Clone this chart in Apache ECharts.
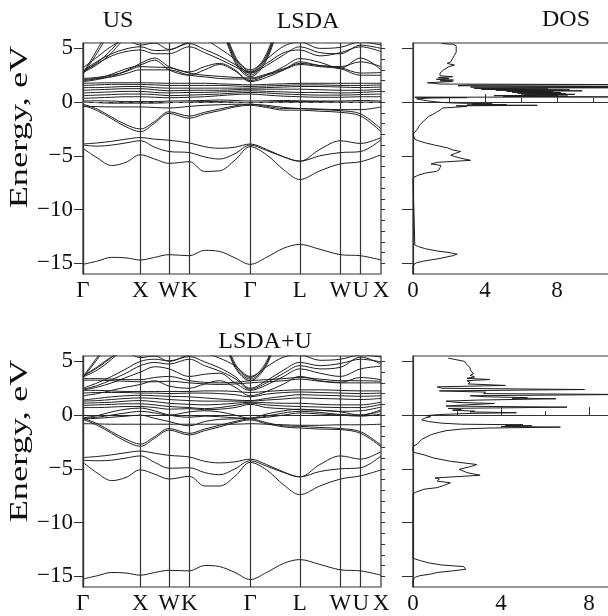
<!DOCTYPE html>
<html><head><meta charset="utf-8">
<script src="https://cdn.jsdelivr.net/npm/echarts@6/dist/echarts.min.js"></script>
<style>html,body{margin:0;padding:0;background:#fff}#c{width:608px;height:616px}</style>
</head><body><div id="c"></div>
<script>
// ---------- path / axes ----------
const kTicks = [0, 1, 1.5, 1.854, 2.915, 3.781, 4.488, 4.842, 5.196];
const kTickLabels = ['Γ','X','W','K','Γ','L','W','U','X'];
const kSample = [0, 0.25, 0.5, 0.75, 1.0, 1.25, 1.5, 1.854, 2.12, 2.38, 2.65, 2.915, 3.2, 3.5, 3.781, 4.13, 4.488, 4.842, 5.196];
const energyTicks = [-15, -10, -5, 0, 5];
const energyMinorTicks = [-15,-14,-13,-12,-11,-10,-9,-8,-7,-6,-5,-4,-3,-2,-1,0,1,2,3,4,5];
const dosTicks = [0, 4, 8];

// ---------- LSDA bands (eV at kSample) ----------
const lsdaDeep = [
  [-15.1,-14.8,-14.45,-14.5,-14.7,-14.45,-14.2,-14.3,-13.8,-13.9,-14.5,-15.1,-14.45,-13.6,-13.25,-13.7,-14.2,-14.3,-14.7]
];
const lsdaLow = [
  [-3.9,-3.8,-3.65,-3.45,-3.3,-3.45,-3.55,-3.8,-4.15,-4.3,-4.2,-3.9,-4.4,-5.1,-5.5,-4.4,-3.6,-3.85,-3.3],
  [-4.0,-4.1,-4.0,-3.8,-3.6,-4.2,-4.6,-4.7,-5.1,-5.3,-4.8,-4.0,-4.5,-5.1,-5.5,-5.0,-4.7,-4.6,-3.5],
  [-4.3,-5.2,-5.9,-5.6,-4.9,-5.3,-5.7,-5.55,-6.45,-6.4,-5.4,-4.15,-4.9,-6.3,-7.2,-6.4,-5.75,-5.55,-4.9]
];
const lsdaValence = [
  [-0.2,-0.65,-1.4,-2.1,-2.5,-1.8,-0.9,-1.3,-0.95,-0.65,-0.35,-0.2,-0.4,-0.6,-0.6,-0.7,-0.8,-1.1,-2.5],
  [-0.3,-0.8,-1.55,-2.3,-2.75,-1.95,-1.05,-1.5,-1.1,-0.8,-0.45,-0.3,-0.5,-0.75,-0.75,-0.85,-0.95,-1.3,-2.75],
  [-0.4,-0.42,-0.45,-0.45,-0.45,-0.5,-0.55,-0.4,-0.3,-0.25,-0.2,-0.2,-0.3,-0.5,-0.6,-0.65,-0.7,-0.7,-0.45],
  [0.0,-0.05,-0.1,-0.1,-0.1,-0.1,-0.05,0.0,0.05,0.05,0.0,-0.05,0.0,0.05,0.05,0.05,0.0,0.0,0.0],
  [0.1,0.12,0.1,0.05,0.05,0.05,0.1,0.12,0.15,0.2,0.15,0.1,0.12,0.15,0.12,0.1,0.1,0.15,0.1]
];
const lsdaFlat = [
  [1.75,1.78,1.8,1.8,1.8,1.78,1.75,1.75,1.75,1.7,1.65,1.6,1.65,1.7,1.75,1.75,1.75,1.75,1.75],
  [1.55,1.6,1.65,1.65,1.65,1.6,1.55,1.55,1.55,1.55,1.5,1.45,1.5,1.55,1.6,1.6,1.55,1.55,1.6],
  [1.35,1.35,1.4,1.45,1.45,1.35,1.3,1.3,1.3,1.3,1.3,1.3,1.35,1.4,1.45,1.45,1.4,1.35,1.4],
  [1.1,1.15,1.2,1.25,1.25,1.15,1.05,1.1,1.1,1.1,1.15,1.2,1.2,1.2,1.2,1.15,1.1,1.1,1.2],
  [0.85,0.9,0.95,1.0,1.0,0.9,0.85,0.9,0.9,0.95,1.0,1.05,1.0,0.95,0.9,0.9,0.85,0.9,1.0],
  [0.6,0.65,0.7,0.75,0.75,0.7,0.6,0.65,0.7,0.75,0.85,0.9,0.85,0.75,0.7,0.65,0.65,0.7,0.75],
  [0.35,0.4,0.45,0.5,0.5,0.45,0.4,0.45,0.5,0.6,0.7,0.75,0.65,0.55,0.5,0.45,0.45,0.5,0.5]
];
const lsdaUpper = [
  [2.2,2.3,2.5,2.85,3.3,3.25,3.2,2.7,2.5,2.4,2.3,2.25,2.6,3.1,3.6,3.4,3.2,2.7,2.75],
  [2.1,2.2,2.35,2.65,3.0,3.0,3.0,2.5,2.35,2.2,2.15,2.15,2.5,3.0,3.5,3.3,3.1,2.5,2.5],
  [1.9,2.1,2.4,2.9,3.6,4.1,3.3,2.8,3.3,3.6,3.0,1.9,2.3,3.0,3.75,3.4,3.3,3.75,3.3],
  [2.0,2.2,2.6,3.1,3.45,3.9,3.0,2.5,3.0,3.5,2.9,2.0,2.5,3.3,4.05,3.7,3.15,4.1,3.0],
  [2.8,3.6,4.3,4.7,4.85,4.5,4.5,5.15,4.6,4.0,3.3,2.7,3.4,4.4,5.15,4.6,4.5,5.3,5.0],
  [2.9,3.8,4.5,4.95,5.15,4.8,4.85,5.45,4.9,4.3,3.5,2.8,3.6,4.6,4.85,4.3,4.6,5.15,4.7],
  [3.2,4.2,5.2,5.8,5.3,5.5,4.9,5.6,5.7,5.0,4.0,3.0,4.0,5.2,5.6,5.0,5.1,5.6,5.3]
];
const lsdaSteep = [
  [2.6,4.6,6.9,null,null,null,null,null,null,null,null,null,null,null,null,null,null,null,null],
  [2.7,4.9,7.3,null,null,null,null,null,null,null,null,null,null,null,null,null,null,null,null],
  [2.75,3.5,4.6,6.2,null,null,null,null,null,null,null,null,null,null,null,null,null,null,null],
  [2.85,3.7,4.9,6.5,null,null,null,null,null,null,null,null,null,null,null,null,null,null,null],
  [null,null,null,null,null,null,null,null,null,7.8,3.7,2.35,3.9,8.8,null,null,null,null,null],
  [null,null,null,null,null,null,null,null,null,8.0,3.9,2.5,4.1,9.0,null,null,null,null,null],
  [null,null,null,null,null,null,null,null,null,8.2,4.1,2.7,4.3,9.2,null,null,null,null,null],
  [null,null,null,null,null,null,null,null,null,8.4,4.3,2.85,4.5,9.4,null,null,null,null,null]
];

// ---------- LSDA+U bands ----------
const uDeep = [
  [-15.25,-14.95,-14.65,-14.7,-14.9,-14.65,-14.45,-14.5,-14.0,-14.1,-14.65,-15.3,-14.65,-13.8,-13.45,-13.9,-14.4,-14.5,-14.9]
];
const uLow = [
  [-3.95,-3.85,-3.7,-3.5,-3.35,-3.55,-3.75,-3.9,-4.3,-4.45,-4.35,-4.1,-4.6,-5.3,-5.75,-4.6,-3.8,-4.1,-3.4],
  [-4.2,-4.25,-4.2,-4.0,-3.8,-4.4,-4.95,-4.9,-5.35,-5.55,-5.0,-4.25,-4.75,-5.35,-5.75,-5.25,-5.0,-4.9,-3.8],
  [-4.4,-5.4,-6.1,-5.8,-5.1,-5.5,-5.95,-5.7,-6.6,-6.6,-5.7,-4.4,-5.1,-6.5,-7.4,-6.6,-5.95,-5.65,-5.1]
];
const uValence = [
  [-0.3,-0.8,-1.55,-2.25,-2.7,-2.0,-1.25,-1.7,-1.3,-0.95,-0.6,-0.35,-0.7,-1.0,-1.05,-1.15,-1.25,-1.55,-2.8],
  [-0.4,-0.95,-1.7,-2.45,-2.9,-2.15,-1.4,-1.85,-1.45,-1.1,-0.7,-0.45,-0.8,-1.1,-1.2,-1.3,-1.35,-1.7,-2.95],
  [-0.8,-0.82,-0.85,-0.85,-0.85,-0.85,-0.85,-0.85,-0.85,-0.85,-0.85,-0.8,-0.85,-0.9,-0.95,-0.95,-0.9,-0.9,-0.85],
  [-0.3,-0.2,0.0,0.2,0.35,0.2,0.0,0.3,0.4,0.3,0.0,-0.3,0.1,0.4,0.55,0.45,0.3,0.0,0.35],
  [-0.25,-0.05,0.3,0.55,0.65,0.4,0.0,-0.2,-0.1,-0.15,-0.25,-0.3,-0.1,0.2,0.35,0.25,0.05,0.0,0.5],
  [-0.35,-0.3,-0.2,-0.1,0.0,-0.3,-0.6,-1.0,-0.6,-0.4,-0.35,-0.3,-0.2,0.0,0.2,0.1,0.0,-0.1,0.1]
];
const uFlat = [
  [2.3,2.3,2.25,2.2,2.2,2.2,2.2,2.2,2.25,2.25,2.2,2.1,2.2,2.3,2.35,2.35,2.3,2.25,2.25],
  [2.05,2.1,2.1,2.1,2.05,2.05,2.0,2.05,2.05,2.0,1.9,1.7,1.95,2.1,2.15,2.1,2.05,2.0,2.05],
  [1.4,1.55,1.7,1.8,1.85,1.8,1.75,1.7,1.6,1.5,1.4,1.35,1.55,1.75,1.9,1.85,1.8,1.75,1.8],
  [1.3,1.35,1.45,1.55,1.6,1.55,1.45,1.35,1.3,1.3,1.3,1.3,1.4,1.5,1.6,1.55,1.5,1.45,1.55],
  [1.1,1.15,1.2,1.3,1.35,1.25,1.1,1.0,0.95,1.0,1.1,1.2,1.15,1.1,1.1,1.0,0.95,0.95,1.2],
  [0.9,0.95,1.0,1.05,1.05,0.95,0.8,0.7,0.6,0.7,0.9,1.1,0.95,0.85,0.8,0.75,0.7,0.7,1.0],
  [0.7,0.7,0.75,0.8,0.8,0.7,0.55,0.6,0.5,0.55,0.7,1.0,0.7,0.6,0.5,0.45,0.35,0.4,0.75]
];
const uUpper = [
  [3.4,3.4,3.35,3.3,3.3,3.5,3.6,3.2,3.05,3.0,3.05,3.2,3.3,3.4,3.5,3.35,3.2,3.2,3.15],
  [3.25,3.25,3.2,3.15,3.1,3.1,3.15,3.0,2.9,2.85,2.9,3.0,3.1,3.2,3.35,3.15,3.0,3.0,3.0],
  [2.35,2.6,3.0,3.5,4.0,4.5,4.3,3.6,3.8,3.9,3.0,2.3,2.8,3.6,4.3,3.9,3.6,4.3,4.55],
  [2.4,2.75,3.3,3.9,4.6,4.9,4.75,5.2,4.6,4.1,3.4,2.4,3.0,3.9,4.6,4.3,4.45,5.4,4.75],
  [2.5,3.0,3.6,4.3,5.0,5.2,5.05,5.45,4.95,4.4,3.6,2.5,3.2,4.2,4.9,4.6,4.8,5.2,4.95],
  [1.8,2.0,2.3,2.6,2.85,3.2,2.7,2.5,2.9,3.2,2.6,1.8,2.2,2.9,3.6,3.2,3.05,3.5,3.3],
  [3.6,4.5,5.4,5.8,5.35,5.5,5.0,5.6,5.7,5.3,4.6,3.6,4.5,5.4,5.6,5.1,5.2,5.6,5.4]
];
const uSteep = [
  [3.5,5.2,7.2,null,null,null,null,null,null,null,null,null,null,null,null,null,null,null,null],
  [3.6,5.4,7.4,null,null,null,null,null,null,null,null,null,null,null,null,null,null,null,null],
  [3.55,4.2,5.2,6.5,null,null,null,null,null,null,null,null,null,null,null,null,null,null,null],
  [3.65,4.4,5.4,6.7,null,null,null,null,null,null,null,null,null,null,null,null,null,null,null],
  [null,null,null,null,null,null,null,null,null,8.3,4.45,3.2,4.65,9.0,null,null,null,null,null],
  [null,null,null,null,null,null,null,null,null,8.5,4.6,3.35,4.8,9.2,null,null,null,null,null],
  [null,null,null,null,null,null,null,null,null,8.7,4.8,3.5,5.0,9.4,null,null,null,null,null]
];

// ---------- DOS (energy, states) ----------
const dosLsdaE = [-16,-15.3,-15.1,-14.95,-14.8,-14.55,-14.3,-14.15,-14.0,-13.85,-13.65,-13.45,-13.3,-13.15,-7.2,-7.0,-6.8,-6.6,-6.45,-6.3,-6.1,-5.9,-5.75,-5.6,-5.42,-5.2,-4.95,-4.8,-4.6,-4.45,-4.25,-4.0,-3.8,-3.6,-3.45,-3.3,-3.0,-2.8,-2.5,-2.2,-1.9,-1.6,-1.35,-1.15,-0.95,-0.75,-0.55,-0.45,-0.4,-0.35,-0.3,-0.27,-0.24,-0.2,-0.16,-0.12,-0.08,-0.03,0.05,0.12,0.2,0.3,0.38,0.42,0.45,0.48,0.52,0.56,0.6,0.64,0.68,0.72,0.76,0.8,0.84,0.88,0.92,0.96,1.0,1.05,1.1,1.14,1.18,1.22,1.28,1.34,1.4,1.46,1.52,1.58,1.63,1.68,1.74,1.8,1.86,1.92,1.98,2.05,2.12,2.2,2.28,2.36,2.45,2.55,2.7,2.85,3.0,3.15,3.3,3.45,3.6,3.75,3.9,4.05,4.2,4.35,4.5,4.65,4.8,4.95,5.1,5.25,5.38,5.45];
const dosLsdaV = [0,0,0.05,0.2,0.6,1.5,2.2,2.45,2.0,1.3,0.7,0.3,0.1,0,0,0.05,0.3,0.7,1.3,1.45,1.5,1.55,1.0,1.4,3.2,2.6,2.1,2.3,2.65,2.2,1.9,1.2,0.7,0.3,0.1,0,0,0.1,0.25,0.35,0.5,0.7,0.85,1.1,1.3,1.5,1.65,1.75,3.0,2.4,6.9,3.0,5.2,3.3,4.4,3.2,2.2,1.6,1.1,0.8,0.5,0.2,1.0,3.0,0.1,11.5,5.0,8.6,4.5,8.0,6.2,9.0,6.0,8.5,5.8,8.2,5.5,7.8,5.2,9.4,4.6,8.7,3.8,7.5,3.4,11.5,3.2,11.5,2.5,3.0,11.5,1.5,1.2,0.8,0.7,2.2,1.5,2.25,1.3,2.0,1.4,2.2,1.5,1.6,1.5,1.6,1.7,1.65,2.0,2.3,1.9,2.1,2.0,2.2,2.1,2.3,2.2,2.4,2.3,2.4,2.3,2.4,2.2,1.6];
const dosUE = [-16,-15.3,-15.1,-14.95,-14.8,-14.65,-14.5,-14.35,-14.1,-13.95,-13.75,-13.55,-13.4,-13.3,-7.35,-7.2,-6.9,-6.75,-6.55,-6.3,-6.15,-5.95,-5.85,-5.6,-5.35,-5.05,-4.8,-4.6,-4.3,-4.0,-3.7,-3.5,-3.4,-2.9,-2.7,-2.25,-1.8,-1.6,-1.45,-1.3,-1.2,-1.12,-1.06,-1.0,-0.95,-0.9,-0.85,-0.75,-0.6,-0.45,-0.3,-0.15,-0.05,0.05,0.15,0.22,0.3,0.37,0.45,0.53,0.62,0.74,0.84,0.95,1.08,1.18,1.3,1.4,1.52,1.58,1.62,1.7,1.8,1.92,2.0,2.14,2.25,2.38,2.5,2.63,2.76,2.9,3.05,3.2,3.31,3.42,3.55,3.7,3.85,4.0,4.2,4.4,4.6,4.8,5.0,5.15,5.3];
const dosUV = [0,0,0.1,0.3,0.8,1.1,1.8,2.4,2.3,1.3,0.7,0.35,0.1,0,0,0.1,0.5,1.1,1.4,1.7,1.1,1.2,1.0,3.05,2.45,2.1,2.6,2.9,1.7,0.95,0.5,0.1,0,0,0.2,0.4,0.85,1.2,1.5,2.2,3.5,6.7,4.0,5.4,4.2,5.0,2.2,1.3,0.7,0.4,0.5,0.8,0.6,1.2,2.5,4.7,2.6,2.8,1.8,2.2,1.6,7.0,1.5,2.4,3.7,2.0,1.5,3.0,6.5,4.5,5.2,3.4,2.6,9.8,3.2,3.3,1.2,7.8,1.3,1.1,4.2,2.5,2.6,2.45,3.5,2.45,2.8,2.6,2.75,2.8,2.6,2.6,2.5,2.4,2.35,2.3,1.6];

// ---------- build ----------
const FONT = '"Liberation Serif","DejaVu Serif",serif';
const INK = '#1e1e1e';
const fmtE = v => (v < 0 ? '\u2212' + Math.abs(v) : String(v));
const kLabel = v => { const i = kTicks.findIndex(t => Math.abs(t - v) < 1e-6); return i >= 0 ? kTickLabels[i] : ''; };

const grids = [
  {left: 83, top: 43, right: 227, height: 231},
  {left: 413, top: 43, right: -21, height: 231},
  {left: 83, top: 356, right: 227, height: 231},
  {left: 413, top: 356, right: -69, height: 231}
].map(g => Object.assign({show: true, borderColor: '#333', borderWidth: 1.2, backgroundColor: 'transparent', containLabel: false, outerBoundsMode: 'none'}, g));

const xAxes = [];
const yAxes = [];
[0, 2].forEach(gi => {
  xAxes[gi] = {
    type: 'value', gridIndex: gi, min: 0, max: 5.196,
    axisLine: {show: true, lineStyle: {color: '#333', width: 1.2}},
    axisTick: {show: false}, splitLine: {show: false},
    axisLabel: {customValues: kTicks, formatter: kLabel, fontFamily: FONT, fontSize: 23, color: '#111', margin: 5}
  };
});
[1, 3].forEach(gi => {
  xAxes[gi] = {
    type: 'value', gridIndex: gi, min: 0, max: 12, interval: 4,
    axisLine: {show: true, lineStyle: {color: '#333', width: 1.2}},
    axisTick: {show: true, inside: true, length: 8, lineStyle: {color: '#333'}},
    minorTick: {show: true, splitNumber: 2, length: 4, lineStyle: {color: '#333'}},
    splitLine: {show: false},
    axisLabel: {customValues: dosTicks, fontFamily: FONT, fontSize: 23, color: '#111', margin: 5}
  };
});
[0, 1, 2, 3].forEach(gi => {
  const isBand = gi % 2 === 0;
  yAxes.push({
    type: 'value', gridIndex: gi, min: -16, max: 5.5,
    axisLine: {show: true, lineStyle: {color: '#333', width: 1.2}},
    axisTick: {show: true, customValues: energyTicks, length: isBand ? 9 : 11, lineStyle: {color: '#333'}},
    splitLine: {show: false},
    axisLabel: {show: isBand, customValues: energyTicks, formatter: fmtE, fontFamily: FONT, fontSize: 23, color: '#111', margin: 10}
  });
  yAxes.push({
    type: 'value', gridIndex: gi, min: -16, max: 5.5,
    axisLine: {show: false},
    axisTick: {show: true, customValues: energyMinorTicks, length: 4, lineStyle: {color: '#333'}},
    splitLine: {show: false}, axisLabel: {show: false}
  });
});

function bandSeries(groups, axisIdx, yIdx) {
  const out = [];
  groups.forEach(group => group.forEach(band => {
    out.push({
      type: 'line', xAxisIndex: axisIdx, yAxisIndex: yIdx, silent: true,
      data: kSample.map((k, i) => [k, band[i]]).filter(p => p[1] !== null),
      smooth: 0.35, showSymbol: false, clip: true,
      lineStyle: {color: INK, width: 1}
    });
  }));
  return out;
}
function guideSeries(axisIdx, yIdx, dashColor) {
  return {
    type: 'line', xAxisIndex: axisIdx, yAxisIndex: yIdx, data: [], silent: true,
    markLine: {
      silent: true, symbol: ['none', 'none'], label: {show: false}, animation: false,
      data: kTicks.map(k => ({xAxis: k, lineStyle: {color: '#333', width: 1.2, type: 'solid'}}))
        .concat([{yAxis: 0, lineStyle: {color: dashColor, width: 1, type: [6, 4]}}])
    }
  };
}
function dosSeries(E, V, axisIdx, yIdx, dashColor, dashStart) {
  return {
    type: 'line', xAxisIndex: axisIdx, yAxisIndex: yIdx, silent: true,
    data: E.map((e, i) => [V[i], e]), showSymbol: false, clip: false,
    lineStyle: {color: INK, width: 1},
    markLine: {
      silent: true, symbol: ['none', 'none'], label: {show: false}, animation: false,
      data: [[{coord: [dashStart, 0], lineStyle: {color: dashColor, width: 1, type: [6, 4]}}, {coord: [12, 0]}]]
    }
  };
}

const series = []
  .concat([guideSeries(0, 0, '#777')])
  .concat(bandSeries([lsdaDeep, lsdaLow, lsdaValence, lsdaFlat, lsdaUpper, lsdaSteep], 0, 0))
  .concat([dosSeries(dosLsdaE, dosLsdaV, 1, 2, '#777', -0.55)])
  .concat([guideSeries(2, 4, '#222')])
  .concat(bandSeries([uDeep, uLow, uValence, uFlat, uUpper, uSteep], 2, 4))
  .concat([dosSeries(dosUE, dosUV, 3, 6, '#222', -0.45)]);

const txt = (t, x, y) => ({type: 'text', x, y, style: {text: t, font: '24px ' + FONT, fill: '#111', textAlign: 'center', textVerticalAlign: 'middle'}});
const ylab = (y) => ({type: 'text', x: 20, y, rotation: Math.PI / 2, scaleX: 1.4,
  style: {text: 'Energy, eV', font: '26px ' + FONT, fill: '#111', textAlign: 'center', textVerticalAlign: 'middle'}});

const chart = echarts.init(document.getElementById('c'));
chart.setOption({
  animation: false,
  backgroundColor: '#fff',
  grid: grids, xAxis: xAxes, yAxis: yAxes, series,
  graphic: [
    txt('US', 118, 21), txt('LSDA', 308, 22), txt('DOS', 566, 20), txt('LSDA+U', 265, 342),
    ylab(127), ylab(441)
  ]
});
</script></body></html>
